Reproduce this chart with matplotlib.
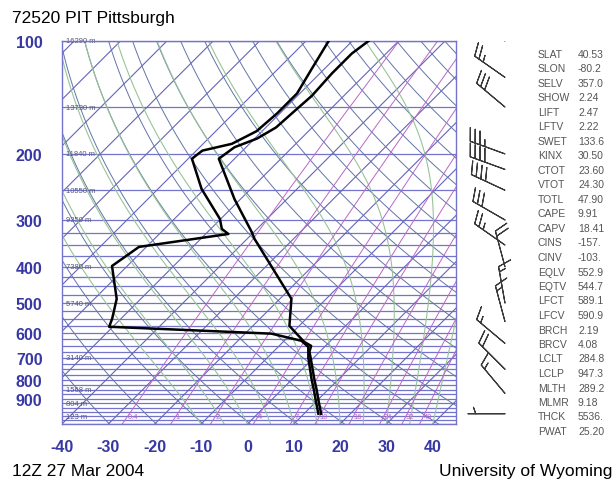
import numpy as np
import matplotlib.pyplot as plt

plt.rcParams['font.family'] = ['Liberation Sans', 'DejaVu Sans']
plt.rcParams['axes.unicode_minus'] = False

# sounding (hPa, degC)
temp_p = [986, 925, 850, 800, 700, 674, 650, 634, 575, 487, 337, 323, 264, 206,
          192, 182, 170, 152, 140, 122, 108, 100]
temp_c = [13.7, 11.0, 7.5, 4.9, -0.6, -2.2, -3.1, -5.5, -12.1, -17.5, -38.4, -40.5,
          -51.3, -63.4, -62.5, -59.5, -57.8, -57.3, -56.9, -57.4, -57.4, -56.5]
dwpt_p = [986, 925, 850, 800, 700, 654, 630, 603, 592, 578, 550, 487, 398, 354,
          327, 317, 298, 248, 206, 196, 188, 174, 156, 138, 119, 100]
dwpt_c = [13.1, 10.4, 6.9, 4.3, -1.1, -3.5, -6.3, -14.3, -30.0, -50.8, -51.9, -55.2,
          -63.3, -61.6, -45.1, -47.6, -50.2, -60.6, -69.2, -68.7, -63.8, -61.2,
          -60.6, -60.6, -62.7, -65.1]

# standard level heights
height_p = [100, 150, 200, 250, 300, 400, 500, 700, 850, 925, 1000]
height_lbl = ['16290 m', '13730 m', '11840 m', '10550 m', '9350 m', '7380 m',
              '5740 m', '3140 m', '1568 m', '804 m', '123 m']

# winds (hPa, direction deg, knots)
wind_p = [100, 125, 150, 200, 220, 250, 300, 350, 400, 500, 560, 640, 750, 870, 986]
wind_dir = [310, 305, 310, 290, 290, 295, 300, 305, 345, 350, 345, 310, 315, 320, 270]
wind_kt = [30, 25, 30, 35, 40, 40, 30, 25, 20, 15, 15, 15, 20, 15, 5]

mixr_g = [0.4, 1, 2, 4, 7, 10, 16, 24, 32, 40]
mixr_lbl = ['0.4', '1', '2', '4', '7', '10', '16', '24', '32', '40']

stat_names = ['SLAT', 'SLON', 'SELV', 'SHOW', 'LIFT', 'LFTV', 'SWET', 'KINX', 'CTOT',
              'VTOT', 'TOTL', 'CAPE', 'CAPV', 'CINS', 'CINV', 'EQLV', 'EQTV', 'LFCT',
              'LFCV', 'BRCH', 'BRCV', 'LCLT', 'LCLP', 'MLTH', 'MLMR', 'THCK', 'PWAT']
stat_vals = ['40.53', '-80.2', '357.0', '2.24', '2.47', '2.22', '133.6', '30.50',
             '23.60', '24.30', '47.90', '9.91', '18.41', '-157.', '-103.', '552.9',
             '544.7', '589.1', '590.9', '2.19', '4.08', '284.8', '947.3', '289.2',
             '9.18', '5536.', '25.20']

P_BOT, P_TOP = 1050.0, 100.0
X_MIN, X_MAX = -40, 45
W, H = 616, 485
AX_L, AX_B, AX_W, AX_H = 62, 60, 394, 383

ISOBAR = '#7474cc'
ISOTHERM = '#6464bc'
DRY = '#6474a8'
MOIST = '#98c498'
MIXR = '#bc66c8'
LABEL = '#3838a4'

fig = plt.figure(figsize=(W / 100, H / 100), dpi=100)
ax = fig.add_axes([AX_L / W, AX_B / H, AX_W / W, AX_H / H])

# skew so that isotherms run at 45 degrees on screen
K = (AX_H / np.log(P_BOT / P_TOP)) / (AX_W / (X_MAX - X_MIN))


def skew(t, p):
    return np.asarray(t, dtype=float) + K * np.log(P_BOT / np.asarray(p, dtype=float))


def moist_adiabat(t0, p):
    t = np.empty_like(p)
    t[0] = t0 + 273.15
    for i in range(1, len(p)):
        tk = t[i - 1]
        es = 6.112 * np.exp(17.67 * (tk - 273.15) / (tk - 29.65))
        rs = 0.622 * es / (p[i - 1] - es)
        dtdp = (287.0 * tk + 2.5e6 * rs) / (1004.0 + 2.5e6 ** 2 * rs * 0.622 / (287.0 * tk ** 2))
        t[i] = tk + dtdp / p[i - 1] * (p[i] - p[i - 1])
    return t - 273.15


pp = np.geomspace(P_BOT, P_TOP, 200)

# isobars
isobars = [100, 150, 200, 250, 300] + list(range(325, 1051, 25))
for p in isobars:
    ax.axhline(p, color=ISOBAR, lw=0.9, zorder=1)

# isotherms
for t in range(-130, 50, 10):
    ax.plot(skew([t, t], [P_BOT, P_TOP]), [P_BOT, P_TOP], color=ISOTHERM, lw=0.8, zorder=1)

# dry adiabats
for th in range(240, 520, 10):
    ax.plot(skew(th * (pp / 1000.0) ** 0.2857 - 273.15, pp), pp, color=DRY, lw=0.7, zorder=1)

# moist adiabats
for t0 in range(-10, 45, 5):
    ax.plot(skew(moist_adiabat(t0, pp), pp), pp, color=MOIST, lw=0.8, zorder=1)

# mixing ratio lines
for w, lbl in zip(mixr_g, mixr_lbl):
    e = w * pp / (622.0 + w)
    a = np.log(e / 6.112)
    td = 243.5 * a / (17.67 - a)
    ax.plot(skew(td, pp), pp, color=MIXR, lw=0.7, zorder=1)
    e0 = w * 1000.0 / (622.0 + w)
    a0 = np.log(e0 / 6.112)
    ax.text(skew(243.5 * a0 / (17.67 - a0), 1000), 1000, lbl, color=MIXR, fontsize=5.5,
            ha='left', va='center', zorder=2)

# heights of standard levels
for p, lbl in zip(height_p, height_lbl):
    ax.text(X_MIN + 0.8, p, lbl, fontsize=5.5, color='#55557a', va='center', ha='left', zorder=2)

# temperature and dew point
ax.plot(skew(temp_c, temp_p), temp_p, color='black', lw=1.8, zorder=3)
ax.plot(skew(dwpt_c, dwpt_p), dwpt_p, color='black', lw=1.8, zorder=3)

ax.set_yscale('log')
ax.set_ylim(P_BOT, P_TOP)
ax.set_xlim(X_MIN, X_MAX)
ax.set_yticks(range(100, 1000, 100))
ax.set_yticklabels([str(v) for v in range(100, 1000, 100)])
ax.minorticks_off()
ax.set_xticks(range(-40, 41, 10))
ax.tick_params(length=0, labelsize=11.5, labelcolor=LABEL)
ax.tick_params(axis='y', pad=14)
ax.tick_params(axis='x', pad=11)
for lab in ax.get_xticklabels() + ax.get_yticklabels():
    lab.set_fontweight('bold')
for s in ax.spines.values():
    s.set_color(ISOBAR)
    s.set_linewidth(1.0)

# wind barbs
wax = fig.add_axes([460 / W, AX_B / H, 80 / W, AX_H / H])
wax.set_yscale('log')
wax.set_ylim(P_BOT, P_TOP)
wax.set_xlim(460, 540)
wax.axis('off')
rad = np.deg2rad(wind_dir)
u = -np.array(wind_kt) * np.sin(rad)
v = -np.array(wind_kt) * np.cos(rad)
wax.barbs(np.full(len(wind_p), 505.0), wind_p, u, v, length=7.3, linewidth=0.8,
          color='#3a3a3a', sizes=dict(emptybarb=0, height=0.35, spacing=0.14))

# stability indices
for i, (n, val) in enumerate(zip(stat_names, stat_vals)):
    y = 1 - (55 + i * 14.5) / H
    fig.text(538 / W, y, n, fontsize=7.5, color='#555555', va='center')
    fig.text(578 / W, y, val, fontsize=7.5, color='#555555', va='center')

fig.text(12 / W, 1 - 18 / H, '72520 PIT Pittsburgh', fontsize=12.5, va='center')
fig.text(12 / W, 1 - 472 / H, '12Z 27 Mar 2004', fontsize=12.5, va='center')
fig.text(612 / W, 1 - 472 / H, 'University of Wyoming', fontsize=12.5, va='center', ha='right')

fig.savefig('out.png', dpi=100)
